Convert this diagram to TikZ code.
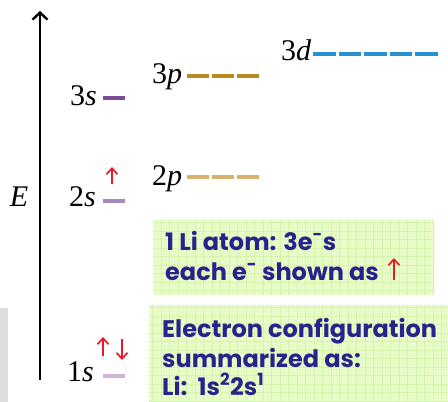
\documentclass[tikz,border=0pt]{standalone}
\usepackage{fontspec}
\setmainfont{Liberation Serif}
\newfontfamily\notefont{Poppins}
\usetikzlibrary{arrows.meta}
\definecolor{sdark}{RGB}{122,78,150}
\definecolor{smid}{RGB}{168,136,192}
\definecolor{slight}{RGB}{201,184,218}
\definecolor{pdark}{RGB}{184,137,32}
\definecolor{plight}{RGB}{216,177,110}
\definecolor{dblue}{RGB}{40,143,212}
\definecolor{spinred}{RGB}{232,26,40}
\definecolor{notebg}{RGB}{232,252,200}
\definecolor{notegrid}{RGB}{212,243,172}
\definecolor{noteink}{RGB}{42,34,140}

\begin{document}
\begin{tikzpicture}[x=1pt, y=-1pt, >={Straight Barb[length=6pt,width=11pt]},   % pixel coordinates
					lvl/.style={font=\fontsize{30}{32}\selectfont, anchor=base east, inner sep=0pt},
					orb/.style={minimum width=22pt, minimum height=4.5pt, inner sep=0pt, outer sep=0pt},
					pbar/.style={orb, minimum width=21.5pt},
					dbar/.style={orb, minimum width=22.8pt, fill=dblue},
					spin/.style={->, draw=spinred, line width=1.7pt},
					note/.style={font=\notefont\bfseries\fontsize{24}{26}\selectfont, text=noteink, anchor=base west, inner sep=0pt, text depth=0pt}]
	\useasboundingbox (0,0) rectangle (448,402);
	\fill[black!13] (0,308) rectangle (8,402);
	% energy axis
	\coordinate (axbot) at (40,380);
	\coordinate (axtop) at (40,11);
	\draw[line width=2.4pt, -{Straight Barb[length=7pt,width=15pt]}] (axbot) -- (axtop);
	\node[lvl, anchor=base] (lE) at (19,206) {\textit{E}};
	% s levels
	\node[lvl] (l3s) at (97,105) {3\textit{s}};
	\node[lvl] (l2s) at (96,206) {2\textit{s}};
	\node[lvl] (l1s) at (94,381) {1\textit{s}};
	\node[orb, fill=sdark] (o3s) at (113.5,98) {};
	\node[orb, fill=smid] (o2s) at (113.5,201) {};
	\node[orb, fill=slight] (o1s) at (113.5,376) {};
	% p and d levels
	\node[lvl, anchor=base west] (l3p) at (152,83) {3\textit{p}};
	\node[lvl, anchor=base west] (l2p) at (152,185) {2\textit{p}};
	\node[lvl, anchor=base west] (l3d) at (281,60) {3\textit{d}};
	\foreach \i in {0,1,2} {
		\node[pbar, fill=pdark] (o3p-\i) at (197.75+\i*25,76) {};
		\node[pbar, fill=plight] (o2p-\i) at (197.75+\i*25,177) {};
	}
	\foreach \i in {0,...,4}
		\node[dbar] (o3d-\i) at (324.4+\i*25.5,54) {};
	% electrons
	\draw[spin] ([xshift=-1.5pt,yshift=17pt]o2s.center) -- ++(0,-17);
	\draw[spin] ([xshift=-10.5pt,yshift=20pt]o1s.center) -- ++(0,-19);
	\draw[spin] ([xshift=8.5pt,yshift=37pt]o1s.center) -- ++(0,21);
	% notes
	\fill[notebg] (153,220) rectangle (434,295);
	\fill[notebg] (149,305) rectangle (448,402);
	\begin{scope}
		\clip (153,220) rectangle (434,295) (149,305) rectangle (448,402);
		\foreach \g in {0,...,36}
			\draw[notegrid, line width=0.7pt] (144+\g*8.5,210) -- ++(0,192);
		\foreach \g in {0,...,22}
			\draw[notegrid, line width=0.7pt] (140,214+\g*8.5) -- ++(308,0);
	\end{scope}
	\node[note] (t1a) at (165,250) {1 Li atom: 3e\textsuperscript{-}s};
	\node[note] (t1b) at (165,280) {each e\textsuperscript{-} shown as};
	\draw[spin] ([xshift=15pt]t1b.base east) -- ++(0,-22);
	\node[note] (t2a) at (162,337) {Electron configuration};
	\node[note] (t2b) at (162,367) {summarized as:};
	\node[note] (t2c) at (162,395) {Li:\ \ 1s\textsuperscript{2}2s\textsuperscript{1}};
\end{tikzpicture}
\end{document}
